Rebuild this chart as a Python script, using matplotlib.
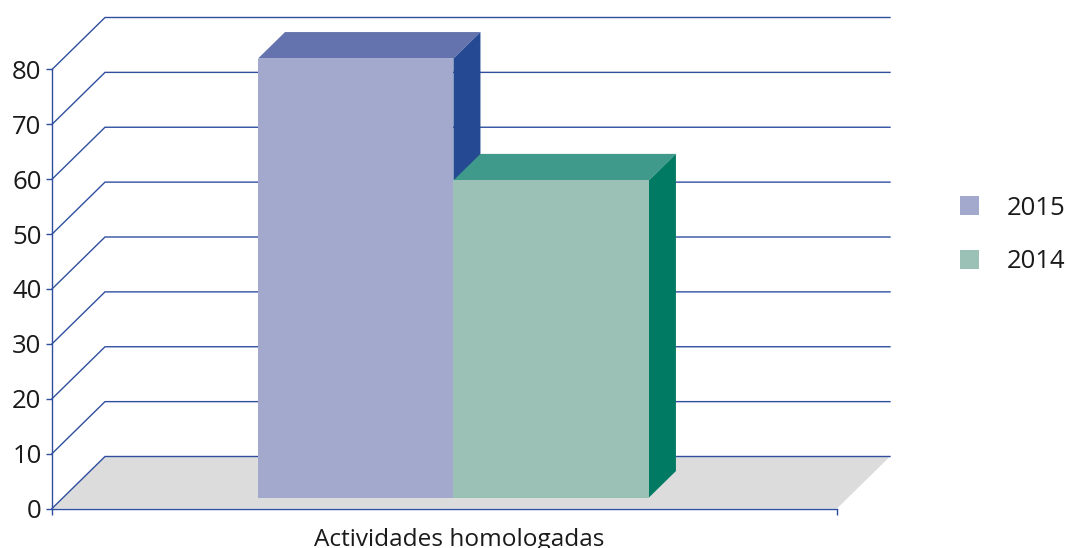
"""Actividades homologadas, 2015 vs 2014: oblique 3D-style column chart."""
import matplotlib
matplotlib.use("Agg")
import matplotlib.pyplot as plt
from matplotlib.patches import Polygon

plt.rcParams["font.family"] = ["Open Sans", "DejaVu Sans"]

category = "Actividades homologadas"
series = ["2015", "2014"]
values = [80, 57.8]
y_ticks = [0, 10, 20, 30, 40, 50, 60, 70, 80]

FRONT = ["#A3A9CD", "#9BC1B7"]
TOP = ["#6473AD", "#3F9A8B"]
SIDE = ["#254A93", "#007A63"]
LINE = "#2F4F9E"
FLOOR = "#DCDCDC"

W, H = 1067, 548
fig = plt.figure(figsize=(W / 100, H / 100), dpi=100)
ax = fig.add_axes([52 / W, (H - 508.5) / H, 785 / W, 439 / H])
ax.set_xlim(-0.5, 0.5)
ax.set_ylim(0, 80)

# oblique offset of the full chart depth, in data units
DX = 53 / 785
DY = 52 / (439 / 80)


def at_depth(x, y, d):
    return x + DX * d, y + DY * d


# floor
ax.add_patch(Polygon([at_depth(-0.5, 0, 0), at_depth(0.5, 0, 0),
                      at_depth(0.5, 0, 1), at_depth(-0.5, 0, 1)],
                     facecolor=FLOOR, edgecolor="none", clip_on=False, zorder=1))

# grid lines: slanted on the left wall, then flat along the back
for v in y_ticks:
    pts = [at_depth(-0.5, v, 0), at_depth(-0.5, v, 1), at_depth(0.5, v, 1)]
    ax.plot([p[0] for p in pts], [p[1] for p in pts], color=LINE, lw=1.0,
            clip_on=False, zorder=2, solid_joinstyle="miter")

# bars
BAR_W = 0.249
BAR_X0 = -0.2518
D0, D1 = 0.21, 0.72
handles = []
for i, (name, val) in enumerate(zip(series, values)):
    x0 = BAR_X0 + i * BAR_W
    x1 = x0 + BAR_W
    xf, yf = at_depth(x0, 0, D0)
    h = ax.bar(xf, val, width=BAR_W, bottom=yf, align="edge", color=FRONT[i],
               label=name, clip_on=False, zorder=5 + i)
    handles.append(h)
    top = [at_depth(x0, val, D0), at_depth(x1, val, D0),
           at_depth(x1, val, D1), at_depth(x0, val, D1)]
    side = [at_depth(x1, 0, D0), at_depth(x1, 0, D1),
            at_depth(x1, val, D1), at_depth(x1, val, D0)]
    ax.add_patch(Polygon(top, facecolor=TOP[i], edgecolor="none", clip_on=False, zorder=4 + i))
    ax.add_patch(Polygon(side, facecolor=SIDE[i], edgecolor="none", clip_on=False, zorder=4 + i))

# axes
for s in ("top", "right"):
    ax.spines[s].set_visible(False)
for s in ("left", "bottom"):
    ax.spines[s].set_color(LINE)
    ax.spines[s].set_linewidth(1.0)
    ax.spines[s].set_zorder(3)
ax.patch.set_alpha(0)
ax.set_yticks(y_ticks)
ax.set_xticks([-0.5, 0.5])
ax.set_xticklabels([])
ax.tick_params(axis="both", color=LINE, width=1.0, length=4.5)
ax.tick_params(axis="y", labelsize=18.5, labelcolor="#1a1a1a", pad=3)
ax.set_xlabel(category, x=0.519, fontsize=17.6, color="#1a1a1a", labelpad=6)

fig.legend(handles=handles, loc="center left", bbox_to_anchor=(960 / W, (H - 235) / H),
           frameon=False, fontsize=18.5, labelcolor="#1a1a1a", handlelength=0.74,
           handleheight=0.74, handletextpad=1.09, labelspacing=1.12,
           borderpad=0, borderaxespad=0)

fig.savefig("out.png", dpi=100)
